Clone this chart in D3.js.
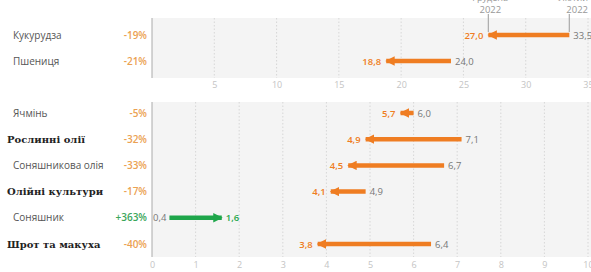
<!DOCTYPE html>
<html><head><meta charset="utf-8">
<script src="https://cdn.jsdelivr.net/npm/d3@7"></script>
<style>body{margin:0;background:#fff;} svg{display:block;font-family:"Open Sans",sans-serif;}</style>
</head><body><svg id="c" width="591" height="272"></svg>
<script>
// Top panel (scale 0–35)
const topCats = ["Кукурудза", "Пшениця"];
const topBold = [false, false];
const topFrom = [33.5, 24.0];
const topTo = [27.0, 18.8];
const topPct = ["-19%", "-21%"];
const topTicks = [5, 10, 15, 20, 25, 30, 35];
// Bottom panel (scale 0–10)
const botCats = ["Ячмінь", "Рослинні олії", "Соняшникова олія", "Олійні культури", "Соняшник", "Шрот та макуха"];
const botBold = [false, true, false, true, false, true];
const botFrom = [6.0, 7.1, 6.7, 4.9, 0.4, 6.4];
const botTo = [5.7, 4.9, 4.5, 4.1, 1.6, 3.8];
const botPct = ["-5%", "-32%", "-33%", "-17%", "+363%", "-40%"];
const botTicks = [0, 1, 2, 3, 4, 5, 6, 7, 8, 9, 10];
const periodLabels = [["Грудень", "2022"], ["Лютий", "2022"]];

const svg = d3.select("#c");
const fmt = v => d3.format(".1f")(v).replace(".", ",");
const ORANGE = "#ef7d22", GREEN = "#1ea64a";

const x0 = 152, x1 = 588;
const xTop = d3.scaleLinear().domain([0, 35]).range([x0, x1]);
const xBot = d3.scaleLinear().domain([0, 10]).range([x0, x1]);

const defs = svg.append("defs");
function marker(id, color) {
  defs.append("marker").attr("id", id).attr("viewBox", "0 0 10 10")
    .attr("refX", 9).attr("refY", 5).attr("markerWidth", 2.1).attr("markerHeight", 2.1)
    .attr("markerUnits", "strokeWidth").attr("orient", "auto")
    .append("path").attr("d", "M0,0 L10,5 L0,10 Z").attr("fill", color);
}
marker("ao", ORANGE); marker("ag", GREEN);

function panel(cats, bold, from, to, pct, x, ticks, yTop, yBot, rowStart, rowStep, tickY) {
  const y = i => rowStart + i * rowStep;
  svg.append("rect").attr("x", x0).attr("y", yTop).attr("width", x1 - x0 + 4).attr("height", yBot - yTop).attr("fill", "#f4f4f4");
  const g = svg.append("g");
  g.selectAll("line.grid").data(ticks.filter(t => t > 0)).join("line")
    .attr("x1", d => x(d)).attr("x2", d => x(d)).attr("y1", yTop).attr("y2", yBot)
    .attr("stroke", "#cfcfcf").attr("stroke-width", 0.8).attr("stroke-dasharray", "1.5,2");
  svg.append("line").attr("x1", x0).attr("x2", x0).attr("y1", yTop).attr("y2", yBot).attr("stroke", "#aaa").attr("stroke-width", 1);
  const ax = d3.axisBottom(x).tickValues(ticks).tickSize(0).tickPadding(0).tickFormat(d3.format("d"));
  const axg = svg.append("g").attr("transform", `translate(0,${tickY})`).call(ax);
  axg.select(".domain").remove();
  axg.selectAll("text").attr("fill", "#c4c4c4").attr("font-size", 9).attr("font-family", "Open Sans").attr("dy", 0);

  cats.forEach((c, i) => {
    svg.append("text").attr("x", bold[i] ? 7 : 13).attr("y", y(i) + 3.5)
      .attr("font-size", bold[i] ? 10 : 10)
      .attr("font-family", bold[i] ? "DejaVu Serif" : "Open Sans")
      .attr("font-weight", bold[i] ? "bold" : "normal")
      .attr("fill", bold[i] ? "#222" : "#555").text(c);
    const up = to[i] > from[i];
    svg.append("text").attr("x", 147).attr("y", y(i) + 3.5).attr("text-anchor", "end")
      .attr("font-size", 10).attr("font-weight", "600").attr("fill", up ? "#3aa65a" : "#eba152").text(pct[i]);
    const col = up ? GREEN : ORANGE;
    svg.append("line").attr("x1", x(from[i])).attr("x2", x(to[i])).attr("y1", y(i)).attr("y2", y(i))
      .attr("stroke", col).attr("stroke-width", 4.5).attr("marker-end", `url(#${up ? "ag" : "ao"})`);
    // start value (gray)
    svg.append("text").attr("x", up ? x(from[i]) - 3 : x(from[i]) + 4).attr("y", y(i) + 3.5)
      .attr("text-anchor", up ? "end" : "start").attr("font-size", 9.5).attr("fill", "#777").text(fmt(from[i]));
    // end value (coloured)
    svg.append("text").attr("x", up ? x(to[i]) + 4 : x(to[i]) - 5).attr("y", y(i) + 3.5)
      .attr("text-anchor", up ? "start" : "end").attr("font-size", 9.5).attr("font-weight", "600").attr("fill", col).text(fmt(to[i]));
  });
}

panel(topCats, topBold, topFrom, topTo, topPct, xTop, topTicks, 18, 78, 35, 26, 88);
panel(botCats, botBold, botFrom, botTo, botPct, xBot, botTicks, 102, 257, 113, 26.2, 268);

// period annotations over the first row
const annX = [topTo[0], topFrom[0]];
annX.forEach((v, i) => {
  const xx = xTop(v);
  svg.append("line").attr("x1", xx).attr("x2", xx).attr("y1", 14).attr("y2", 32).attr("stroke", "#aaa").attr("stroke-width", 1.2);
  const anchor = i === 0 ? "middle" : "end";
  const tx = i === 0 ? xx + 2 : 588;
  svg.append("text").attr("x", tx).attr("y", 0.5).attr("text-anchor", anchor).attr("font-size", 9).attr("fill", "#999").text(periodLabels[i][0]);
  svg.append("text").attr("x", tx).attr("y", 13).attr("text-anchor", anchor).attr("font-size", 9.5).attr("fill", "#999").text(periodLabels[i][1]);
});
</script></body></html>
